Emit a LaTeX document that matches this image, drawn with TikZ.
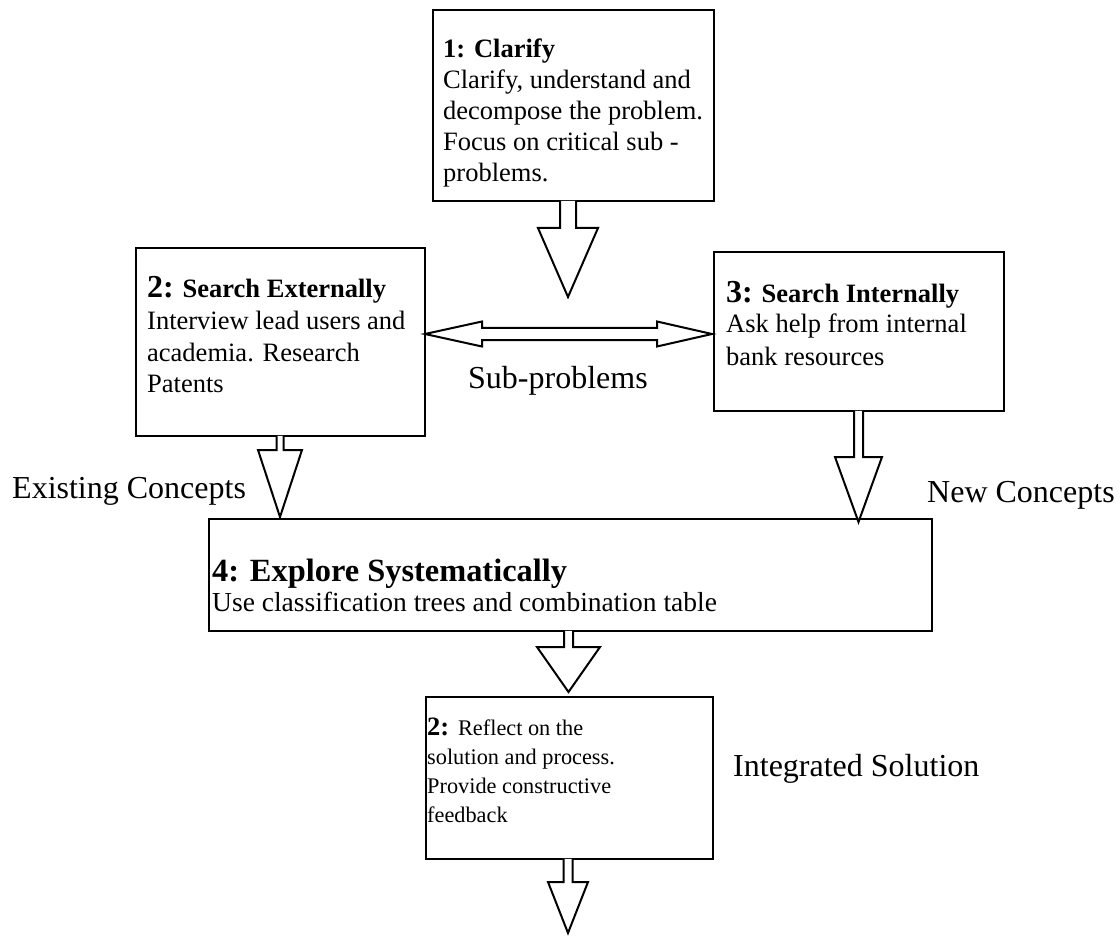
\documentclass[tikz,border=0pt]{standalone}
\usepackage{fontspec}
\setmainfont{Liberation Serif}
\usetikzlibrary{calc}

% font sizes used in the chart
\newcommand\fbig{\fontsize{32}{38}\selectfont}
\newcommand\fmid{\fontsize{26.5}{31}\selectfont}
\newcommand\fsml{\fontsize{22.3}{25}\selectfont}
\newcommand\fbody{\fontsize{27.5}{31}\selectfont}
\newcommand\fhead{\fontsize{32.4}{38}\selectfont}

% hollow block arrow pointing down: #1 start anchor on a box, #2 tip,
% #3 half stem width, #4 half head width, #5 head length
\newcommand\blockdown[5]{%
  \draw[blk] ($(#2 |- #1)+(-#3,-1.5)$) -- ($(#2)+(-#3,-#5)$) -- ($(#2)+(-#4,-#5)$)
    -- (#2) -- ($(#2)+(#4,-#5)$) -- ($(#2)+(#3,-#5)$) -- ($(#2 |- #1)+(#3,-1.5)$);}

\begin{document}
\begin{tikzpicture}[x=1pt,y=-1pt,
  box/.style={draw, line width=2.4pt, inner sep=0pt, anchor=north west},
  blk/.style={draw, line width=2pt, line join=miter, fill=white},
  txt/.style={inner sep=0pt, anchor=base west, font=\fmid},
  lbl/.style={inner sep=0pt, anchor=base west, font=\fbig}]
\useasboundingbox[fill=white] (0,0) rectangle (1120,936);

% process boxes
\node[box, minimum width=281pt, minimum height=191pt] (b1) at (432,9) {};
\node[box, minimum width=289pt, minimum height=188pt] (b2) at (135,247) {};
\node[box, minimum width=290pt, minimum height=159pt] (b3) at (713,251) {};
\node[box, minimum width=723pt, minimum height=112pt] (b4) at (208,518) {};
\node[box, minimum width=287pt, minimum height=162pt] (b5) at (425,696) {};

% arrow tips
\coordinate (tip1) at (568,297);
\coordinate (tip2) at (280,517);
\coordinate (tip3) at (858.5,522);
\coordinate (tip4) at (568.5,692);
\coordinate (tip5) at (568,933);
\coordinate (dl) at (425,334);
\coordinate (dr) at (712,334);

% block arrows
\blockdown{b1.south}{tip1}{8}{30}{69}
\blockdown{b2.south}{tip2}{3.5}{22}{67}
\blockdown{b3.south}{tip3}{4.5}{23.5}{65}
\blockdown{b4.south}{tip4}{4.5}{31.5}{45}
\blockdown{b5.south}{tip5}{4.5}{20}{51}

% two-way arrow between the search boxes
\draw[blk] (dl) -- ($(dl)+(57,-12.5)$) -- ($(dl)+(57,-6)$) -- ($(dr)+(-55,-6)$)
  -- ($(dr)+(-55,-12.5)$) -- (dr) -- ($(dr)+(-55,12.5)$) -- ($(dr)+(-55,6)$)
  -- ($(dl)+(57,6)$) -- ($(dl)+(57,12.5)$) -- cycle;

% box 1
\node[txt] (t1a) at (443,58) {\bfseries 1: Clarify};
\node[txt] (t1b) at (443,89) {Clarify, understand and};
\node[txt] (t1c) at (443,120) {decompose the problem.};
\node[txt] (t1d) at (443,151) {Focus on critical sub -};
\node[txt] (t1e) at (443,182) {problems.};

% box 2
\node[txt] (t2a) at (147,298) {{\fbig\bfseries 2:} {\bfseries Search Externally}};
\node[txt] (t2b) at (147,330) {Interview lead users and};
\node[txt] (t2c) at (147,361) {academia. Research};
\node[txt] (t2d) at (147,392) {Patents};

% box 3
\node[txt] (t3a) at (726,302) {{\fbig\bfseries 3:} {\bfseries Search Internally}};
\node[txt] (t3b) at (726,333) {Ask help from internal};
\node[txt] (t3c) at (726,365) {bank resources};

% box 4
\node[txt, font=\fhead] (t4a) at (212,581) {\bfseries 4: Explore Systematically};
\node[txt, font=\fbody] (t4b) at (212,611) {Use classification trees and combination table};

% box 5
\node[txt] (t5a) at (427,735) {{\bfseries 2:} {\fsml Reflect on the}};
\node[txt, font=\fsml] (t5b) at (427,764) {solution and process.};
\node[txt, font=\fsml] (t5c) at (427,793) {Provide constructive};
\node[txt, font=\fsml] (t5d) at (427,822) {feedback};

% free labels
\node[lbl] (lsub) at (468,388) {Sub-problems};
\node[lbl] (lexist) at (12,498) {Existing Concepts};
\node[lbl] (lnew) at (927,502) {New Concepts};
\node[lbl] (lint) at (733,776) {Integrated Solution};
\end{tikzpicture}
\end{document}
